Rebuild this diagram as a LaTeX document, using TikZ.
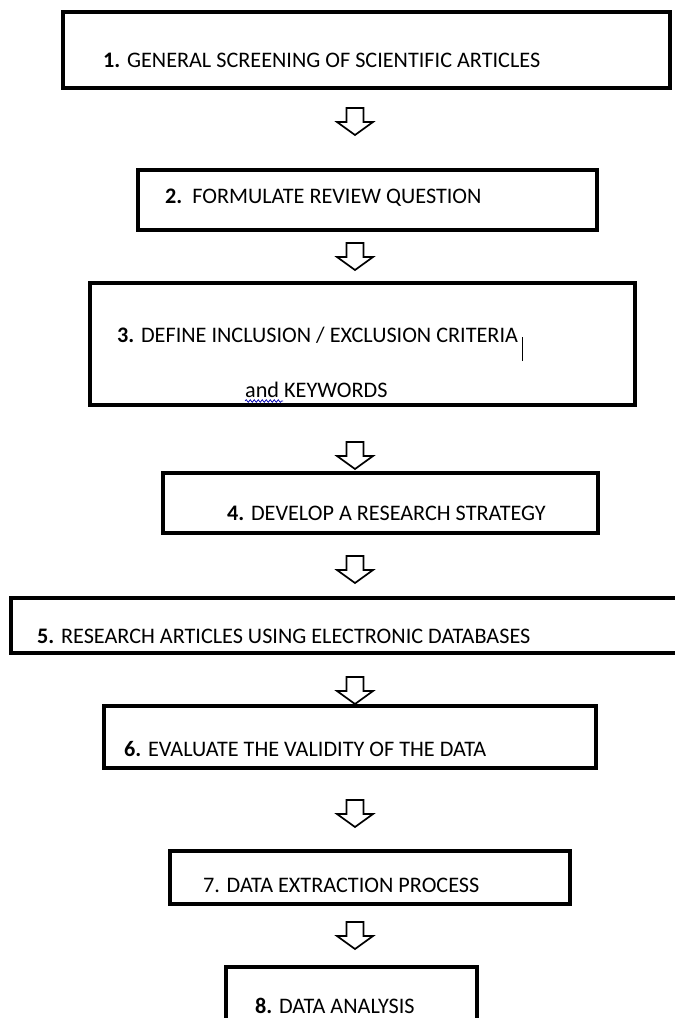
\documentclass[tikz,border=0pt]{standalone}
\usepackage{fontspec}
\setmainfont{Carlito}
\usetikzlibrary{decorations.pathmorphing}

\tikzset{
  stepbox/.style={draw, line width=3.2pt, inner sep=0pt},
  steptext/.style={anchor=base west, inner sep=0pt, font=\fontsize{22.2}{26}\selectfont},
  downarr/.pic={
    \draw[line width=1.7pt, line join=miter]
      (-8.5,0) -- (8.5,0) -- (8.5,14) -- (18,14) -- (0,27) -- (-18,14) -- (-8.5,14) -- cycle;
  }
}

\begin{document}
\begin{tikzpicture}[x=1pt, y=-1pt]
  \useasboundingbox (0,0) rectangle (675,1018);

  % boxes
  \node[stepbox, minimum width=607pt, minimum height=76pt] (b1) at (366.5,50) {};
  \node[stepbox, minimum width=459pt, minimum height=60pt] (b2) at (367.5,200) {};
  \node[stepbox, minimum width=545pt, minimum height=122pt] (b3) at (362.5,344) {};
  \node[stepbox, minimum width=435pt, minimum height=60pt] (b4) at (380.5,503) {};
  \node[stepbox, minimum width=689pt, minimum height=55pt] (b5) at (355.5,625.5) {};
  \node[stepbox, minimum width=492pt, minimum height=62pt] (b6) at (350,737) {};
  \node[stepbox, minimum width=400pt, minimum height=53pt] (b7) at (370,877.5) {};
  \node[stepbox, minimum width=251pt, minimum height=83pt] (b8) at (351.5,1008.5) {};

  % texts
  \node[steptext] (t1) at (103,67) {\textbf{1.} GENERAL SCREENING OF SCIENTIFIC ARTICLES};
  \node[steptext] (t2) at (165,203) {\textbf{2.}~~FORMULATE REVIEW QUESTION};
  \node[steptext] (t3) at (117,342) {\textbf{3.} DEFINE INCLUSION / EXCLUSION CRITERIA};
  \node[steptext] (t3b) at (245,397) {and KEYWORDS};
  \node[steptext] (t4) at (227,520) {\textbf{4.} DEVELOP A RESEARCH STRATEGY};
  \node[steptext] (t5) at (37,643) {\textbf{5.} RESEARCH ARTICLES USING ELECTRONIC DATABASES};
  \node[steptext] (t6) at (124,756) {\textbf{6.} EVALUATE THE VALIDITY OF THE DATA};
  \node[steptext] (t7) at (203,892) {7. DATA EXTRACTION PROCESS};
  \node[steptext] (t8) at (255,1013) {\textbf{8.} DATA ANALYSIS};

  % cursor and spell-check mark
  \draw[line width=1pt] ([xshift=4pt, yshift=-19pt]t3.base east) -- ([xshift=4pt, yshift=5pt]t3.base east);
  \draw[blue!70!black, line width=0.7pt, decorate, decoration={snake, amplitude=1.3pt, segment length=4pt}]
    ([yshift=-4pt]t3b.base west) -- ++(38,0);

  % arrows
  \pic at (355,108) {downarr};
  \pic at (355,243) {downarr};
  \pic at (355,442) {downarr};
  \pic at (355,556) {downarr};
  \pic at (355,677) {downarr};
  \pic at (355,800) {downarr};
  \pic at (355,922) {downarr};

\end{tikzpicture}
\end{document}
